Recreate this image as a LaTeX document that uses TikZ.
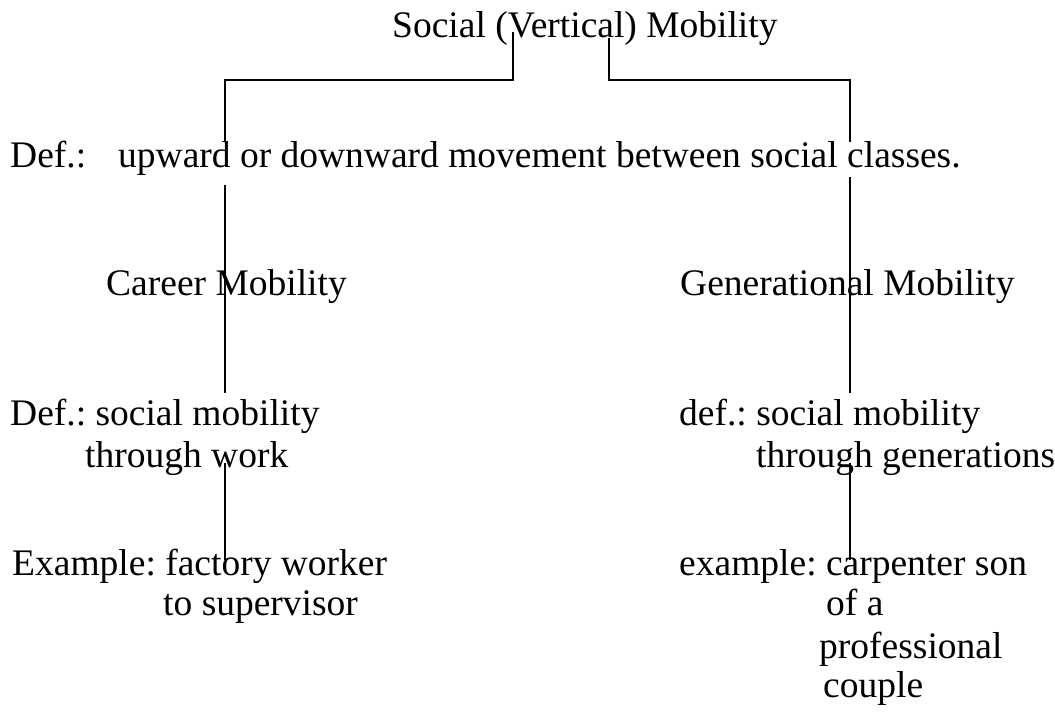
\documentclass[tikz,border=0pt]{standalone}
\usepackage{fontspec}
\setmainfont{Liberation Serif}
\begin{document}
\frenchspacing
\begin{tikzpicture}[x=1pt,y=-1pt,
  txt/.style={anchor=base west,inner sep=0pt,font=\fontsize{37.5}{41}\selectfont},
  conn/.style={line width=1.5pt}]
\fill[white] (0,0) rectangle (1055,713);
\useasboundingbox (0,0) rectangle (1055,713);
% texts
\node[txt] (title) at (392,37) {Social (Vertical) Mobility};
\node[txt] (def) at (10,167) {Def.:\hspace{32pt}upward or downward movement between social classes.};
\node[txt] (career) at (106,295) {Career Mobility};
\node[txt] (gen) at (680,295) {Generational Mobility};
\node[txt] (cdefa) at (10,425) {Def.: social mobility};
\node[txt] (cdefb) at (85,467) {through work};
\node[txt] (gdefa) at (679,425) {def.: social mobility};
\node[txt] (gdefb) at (756,467) {through generations};
\node[txt] (cexa) at (12,575) {Example: factory worker};
\node[txt] (cexb) at (163,615) {to supervisor};
\node[txt] (gexa) at (679,575) {example: carpenter son};
\node[txt] (gexb) at (826,615) {of a};
\node[txt] (gexc) at (819,658) {professional};
\node[txt] (gexd) at (823,697) {couple};
% connector points
\coordinate (lt) at (513,32);
\coordinate (rt) at (609,38);
\coordinate (lh) at (225,80);
\coordinate (rh) at (850,80);
\coordinate (l1) at (225,142);
\coordinate (l2) at (225,185);
\coordinate (l3) at (225,393);
\coordinate (l4) at (225,463);
\coordinate (l5) at (225,560);
\coordinate (r1) at (850,142);
\coordinate (r2) at (850,177);
\coordinate (r3) at (850,393);
\coordinate (r4) at (850,463);
\coordinate (r5) at (850,560);
% connectors
\draw[conn] (lt) |- (lh) -- (l1);
\draw[conn] (l2) -- (l3);
\draw[conn] (l4) -- (l5);
\draw[conn] (rt) |- (rh) -- (r1);
\draw[conn] (r2) -- (r3);
\draw[conn] (r4) -- (r5);
\end{tikzpicture}
\end{document}
